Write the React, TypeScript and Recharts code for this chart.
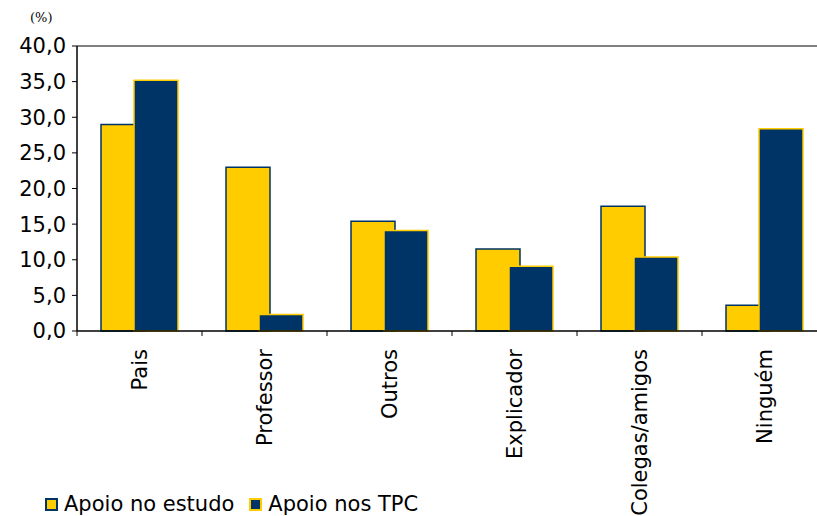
import React from "react"
import { BarChart, Bar, XAxis, YAxis, ReferenceLine } from "recharts"

const categories = ["Pais", "Professor", "Outros", "Explicador", "Colegas/amigos", "Ninguém"]
const apoioEstudo = [29.0, 23.0, 15.4, 11.5, 17.5, 3.6]
const apoioTPC = [35.2, 2.3, 14.1, 9.1, 10.4, 28.4]
const yTicks = [0, 5, 10, 15, 20, 25, 30, 35, 40]

const YELLOW = "#FFCC00"
const NAVY = "#003366"
const FONT = "'DejaVu Sans', Verdana, sans-serif"

const data = categories.map((name, i) => ({
  name,
  estudo: apoioEstudo[i],
  tpc: apoioTPC[i],
}))

const series = [
  { key: "estudo", label: "Apoio no estudo", fill: YELLOW, stroke: NAVY },
  { key: "tpc", label: "Apoio nos TPC", fill: NAVY, stroke: YELLOW },
]

// rotated label plus the little tick marks that sit between categories
function CategoryTick(props: any) {
  const { x, y, payload, index, width } = props
  const half = width / categories.length / 2
  const axisY = y - 8
  return (
    <g>
      <line x1={x - half} x2={x - half} y1={axisY} y2={axisY + 5} stroke="#000" />
      {index === categories.length - 1 && (
        <line x1={x + half} x2={x + half} y1={axisY} y2={axisY + 5} stroke="#000" />
      )}
      <text
        transform={`translate(${x},${y + 10}) rotate(-90)`}
        textAnchor="end"
        dy="0.36em"
        fontSize={21}
        fontFamily={FONT}
        fill="#000"
      >
        {payload.value}
      </text>
    </g>
  )
}

function LegendBox() {
  return (
    <div
      style={{
        position: "absolute",
        left: 45,
        top: 492,
        display: "flex",
        alignItems: "center",
        fontFamily: FONT,
        fontSize: 21,
        color: "#000",
        whiteSpace: "nowrap",
      }}
    >
      {series.map((s) => (
        <div key={s.key} style={{ display: "flex", alignItems: "center", marginRight: 15 }}>
          <span
            style={{
              display: "inline-block",
              width: 9,
              height: 9,
              background: s.fill,
              border: `2px solid ${s.stroke}`,
              marginRight: 6,
            }}
          />
          <span>{s.label}</span>
        </div>
      ))}
    </div>
  )
}

export default function App() {
  return (
    <div style={{ position: "absolute", left: 0, top: 0, width: 817, height: 516, overflow: "hidden", background: "#fff" }}>
      <div style={{ position: "absolute", left: 30, top: 10, fontFamily: "'DejaVu Serif', serif", fontSize: 13 }}>(%)</div>
      <BarChart
        width={830}
        height={516}
        data={data}
        margin={{ top: 46, right: 3, bottom: 0, left: 0 }}
        barSize={44}
        barGap={-11}
      >
        <XAxis
          xAxisId="cat"
          dataKey="name"
          interval={0}
          tickLine={false}
          axisLine={{ stroke: "#000", strokeWidth: 1.5 }}
          tick={<CategoryTick />}
          height={185}
        />
        <YAxis
          domain={[0, 40]}
          ticks={yTicks}
          width={77}
          tickSize={5}
          tickLine={{ stroke: "#000" }}
          axisLine={{ stroke: "#000", strokeWidth: 1.5 }}
          tickFormatter={(v: number) => v.toFixed(1).replace(".", ",")}
          tick={{ fill: "#000", fontSize: 21, fontFamily: FONT }}
          tickMargin={6}
        />
        <ReferenceLine xAxisId="cat" y={40} stroke="#808080" strokeWidth={2} />
        {series.map((s) => (
          <Bar
            key={s.key}
            xAxisId="cat"
            dataKey={s.key}
            name={s.label}
            fill={s.fill}
            stroke={s.stroke}
            strokeWidth={1.5}
            isAnimationActive={false}
          />
        ))}
      </BarChart>
      <LegendBox />
    </div>
  )
}
